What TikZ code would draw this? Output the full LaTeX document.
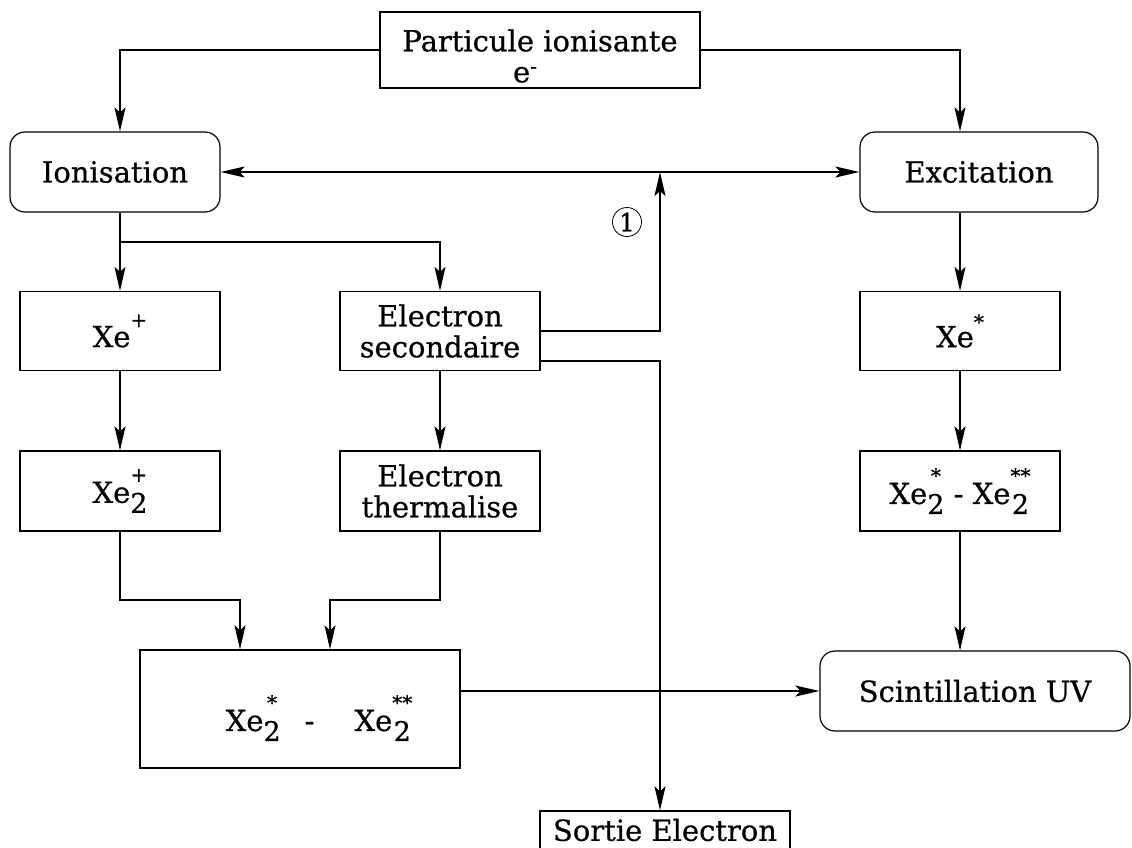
\documentclass[tikz,border=0pt]{standalone}
\usepackage{fontspec}
\setmainfont{DejaVu Serif}[FakeBold=0.6]
\usetikzlibrary{arrows.meta}
\newcommand\Up[2]{\raisebox{#1}{\fontsize{20}{20}\selectfont #2}}
\newcommand\Dn[1]{\raisebox{-10pt}{\fontsize{27}{27}\selectfont #1}}
\newcommand\Stk[2]{\ooalign{\hfil\Up{21pt}{#1}\hfil\cr\hfil\Dn{#2}\hfil\cr}}
\begin{document}
\begin{tikzpicture}[x=1pt,y=-1pt,
  every node/.style={font=\fontsize{29}{31}\selectfont},
  box/.style={draw, line width=1.2pt, inner sep=0pt, align=center},
  rbox/.style={box, rounded corners=15pt},
  conn/.style={line width=2pt},
  tip/.tip={Stealth[length=24pt,width=11pt,inset=5pt]},
  arr/.style={conn, -tip}]
\clip (0,0) rectangle (1132,847);
\node[box, minimum width=320pt, minimum height=76pt] (top) at (540,50) {};
\node[align=center, inner sep=0pt] (toptxt) at (540,56) {Particule ionisante\\e\Up{9pt}{-}\hspace*{30pt}};
\node[rbox, minimum width=210pt, minimum height=80pt] (ion) at (115,172) {Ionisation};
\node[rbox, minimum width=238pt, minimum height=80pt] (exc) at (979,172) {Excitation};
\node[box, minimum width=200pt, minimum height=79pt] (xep) at (120,331) {Xe\Up{20pt}{+}};
\node[box, minimum width=200pt, minimum height=79pt] (es) at (440,331) {Electron\\secondaire};
\node[box, minimum width=200pt, minimum height=79pt] (xes) at (960,331) {Xe\Up{18pt}{*}};
\node[box, minimum width=200pt, minimum height=80pt] (xe2p) at (120,491) {Xe\Stk{+}{2}};
\node[box, minimum width=200pt, minimum height=80pt] (et) at (440,491) {Electron\\thermalise};
\node[box, minimum width=200pt, minimum height=80pt] (xe2r) at (960,491) {Xe\Stk{*}{2} - Xe\Stk{**}{2}};
\node[box, minimum width=320pt, minimum height=118pt] (big) at (300,709) {};
\node (bigtxt) at (319,718) {Xe\Stk{*}{2}\hspace{24pt}-\hspace{40pt}Xe\Stk{**}{2}};
\node[rbox, minimum width=310pt, minimum height=80pt] (scint) at (975,691) {Scintillation UV};
\node[box, minimum width=250pt, minimum height=38pt] (sortie) at (665,830) {Sortie Electron};
\node[circle, draw, line width=0.8pt, minimum size=29pt, inner sep=0pt, font=\fontsize{25}{25}\selectfont] (one) at (627,222) {1};
\coordinate (B) at (120,242);
\coordinate (J) at (660,172);
\coordinate (L1) at (240,600);
\coordinate (L2) at (330,600);
\draw[arr] (top.west) -| (ion.north -| B);
\draw[arr] (top.east) -| (exc.north -| xes.north);
\draw[conn, tip-tip] (ion.east) -- (exc.west);
\draw[conn] (ion.south -| B) -- (B);
\draw[arr] (B) -- (xep.north);
\draw[arr] (B) -| (es.north);
\draw[arr] (es.east) -| (J);
\draw[arr] ([yshift=10pt]es.south east) -| (sortie.north -| J);
\draw[arr] (exc.south -| xes.north) -- (xes.north);
\draw[arr] (xep.south) -- (xe2p.north);
\draw[arr] (es.south) -- (et.north);
\draw[arr] (xes.south) -- (xe2r.north);
\draw[arr] (xe2p.south) |- (L1) -- (L1 |- big.north);
\draw[arr] (et.south) |- (L2) -- (L2 |- big.north);
\draw[arr] (big.east |- scint.west) -- (scint.west);
\draw[arr] (xe2r.south) -- (xe2r.south |- scint.north);
\end{tikzpicture}
\end{document}
